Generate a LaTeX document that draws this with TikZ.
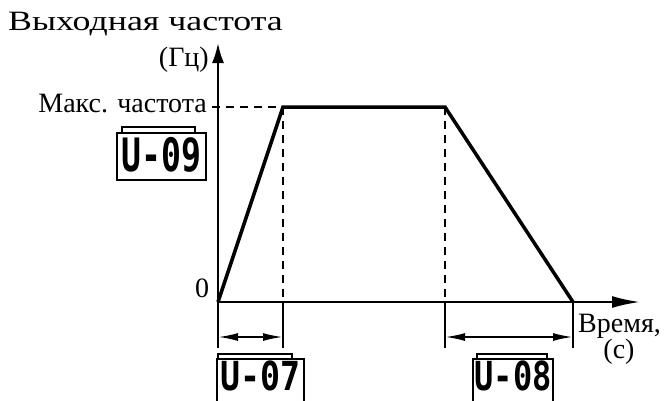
\documentclass[tikz,border=0pt]{standalone}
\usepackage{fontspec}
\usepackage{graphicx}
\setmainfont{Liberation Serif}
\newfontfamily\lcdfont{DejaVu Sans Mono}
\usetikzlibrary{positioning, calc, arrows.meta}

\newcommand{\lcdtext}[2][0.72]{\scalebox{#1}[1]{\lcdfont\bfseries #2}}

\begin{document}
\begin{tikzpicture}[
    x=1pt, y=-1pt,
    axis/.style={line width=2.2pt},
    curve/.style={line width=3.5pt, line join=miter},
    guide/.style={line width=2pt, dash pattern=on 8pt off 6pt},
    span/.style={line width=2pt, {Latex[length=20pt,width=8pt]}-{Latex[length=20pt,width=8pt]}},
    lbl/.style={inner sep=0pt, font=\fontsize{28}{30}\selectfont},
    lcd/.style={inner sep=0pt, font=\fontsize{46}{46}\selectfont},
    lcdlow/.style={inner sep=0pt, font=\fontsize{40}{40}\selectfont},
    frame/.style={line width=1.8pt},
    tab/.style={line width=1.5pt}
  ]
  \useasboundingbox (0,0) rectangle (669,400);
  \clip (0,0) rectangle (669,400);

  % axes and curve points
  \coordinate (O) at (218,302);
  \coordinate (ytop) at (218,43);
  \coordinate (xend) at (640,302);
  \coordinate (A) at (283,107);
  \coordinate (B) at (445,107);
  \coordinate (C) at (573,302);
  \coordinate (ymax) at (212,107);

  \draw[axis, -{Latex[length=20pt,width=12pt]}] (218,348) -- (ytop);
  \draw[axis, -{Latex[length=28pt,width=12pt]}] (O) -- (xend);

  \draw[guide] (ymax) -- (A);
  \draw[guide] (A) -- (A |- O);
  \draw[guide] (B) -- (B |- O);

  \draw[curve] (O) -- (A) -- (B) -- (C);

  % ticks below the time axis
  \foreach \p in {A, B, C}
    \draw[axis] (\p |- O) -- ++(0,46);

  \draw[span] (218,337) -- (283,337);
  \draw[span] (445,337) -- (573,337);

  % labels
  \node[lbl, anchor=west] (ylabel) at (8,24) {\scalebox{1.28}[1]{Выходная частота}};
  \node[lbl, anchor=east] (yunit) at (209,60) {(Гц)};
  \node[lbl, anchor=east] (fmax) at (207,104) {Макс. частота};
  \node[lbl] (zero) at (202,288) {0};
  \node[lbl, anchor=west] (xlabel) at (578,326) {Время,};
  \node[lbl] (xunit) at (619,352) {(с)};

  % parameter displays
  \node[lcd] (u09) at (161.5,155) {\lcdtext{U-09}};
  \draw[frame] (117,133) rectangle (206,180);
  \draw[tab] (122,127) rectangle (195,133);

  \node[lcdlow] (u07) at (260.5,376) {\lcdtext[0.83]{U-07}};
  \draw[frame] (217,405) |- (304,359) -- (304,405);
  \draw[tab] (218,354) rectangle (292,359);

  \node[lcdlow] (u08) at (513,376) {\lcdtext[0.8]{U-08}};
  \draw[frame] (473,405) |- (553,359) -- (553,405);
  \draw[tab] (477,354) rectangle (547,359);
\end{tikzpicture}
\end{document}
